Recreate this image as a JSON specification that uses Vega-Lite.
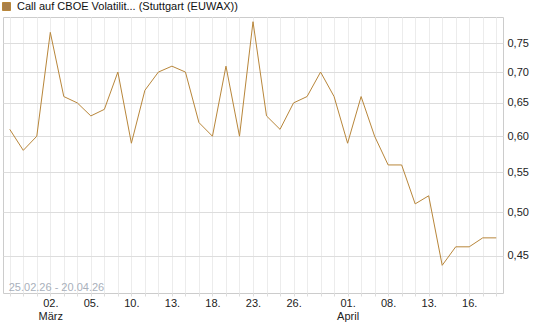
{
  "$schema": "https://vega.github.io/schema/vega-lite/v6.json",
  "width": 500,
  "height": 276,
  "autosize": "none",
  "padding": {"left": 3, "top": 17, "right": 42, "bottom": 34},
  "background": "#ffffff",
  "config": {
    "view": {"stroke": "#cccccc", "strokeWidth": 1},
    "font": "Liberation Sans"
  },
  "data": {
    "values": [
      {"d": "2026-02-25", "v": 0.61},
      {"d": "2026-02-26", "v": 0.58},
      {"d": "2026-02-27", "v": 0.60},
      {"d": "2026-03-02", "v": 0.77},
      {"d": "2026-03-03", "v": 0.66},
      {"d": "2026-03-04", "v": 0.65},
      {"d": "2026-03-05", "v": 0.63},
      {"d": "2026-03-06", "v": 0.64},
      {"d": "2026-03-09", "v": 0.70},
      {"d": "2026-03-10", "v": 0.59},
      {"d": "2026-03-11", "v": 0.67},
      {"d": "2026-03-12", "v": 0.70},
      {"d": "2026-03-13", "v": 0.71},
      {"d": "2026-03-16", "v": 0.70},
      {"d": "2026-03-17", "v": 0.62},
      {"d": "2026-03-18", "v": 0.60},
      {"d": "2026-03-19", "v": 0.71},
      {"d": "2026-03-20", "v": 0.60},
      {"d": "2026-03-23", "v": 0.79},
      {"d": "2026-03-24", "v": 0.63},
      {"d": "2026-03-25", "v": 0.61},
      {"d": "2026-03-26", "v": 0.65},
      {"d": "2026-03-27", "v": 0.66},
      {"d": "2026-03-30", "v": 0.70},
      {"d": "2026-03-31", "v": 0.66},
      {"d": "2026-04-01", "v": 0.59},
      {"d": "2026-04-02", "v": 0.66},
      {"d": "2026-04-07", "v": 0.60},
      {"d": "2026-04-08", "v": 0.56},
      {"d": "2026-04-09", "v": 0.56},
      {"d": "2026-04-10", "v": 0.51},
      {"d": "2026-04-13", "v": 0.52},
      {"d": "2026-04-14", "v": 0.44},
      {"d": "2026-04-15", "v": 0.46},
      {"d": "2026-04-16", "v": 0.46},
      {"d": "2026-04-17", "v": 0.47},
      {"d": "2026-04-20", "v": 0.47}
    ]
  },
  "encoding": {
    "x": {
      "field": "d",
      "type": "ordinal",
      "scale": {"type": "point", "padding": 0.5},
      "axis": {
        "title": null,
        "grid": true,
        "gridColor": "#ececec",
        "domain": false,
        "ticks": true,
        "tickSize": 3,
        "tickColor": "#dddddd",
        "labelAngle": 0,
        "labelFontSize": 11,
        "labelColor": "#222222",
        "labelPadding": 1,
        "labelLineHeight": 13,
        "labelOverlap": false,
        "labelExpr": "datum.value == '2026-03-02' ? ['02.', 'März'] : datum.value == '2026-04-01' ? ['01.', 'April'] : indexof(['2026-03-05','2026-03-10','2026-03-13','2026-03-18','2026-03-23','2026-03-26','2026-04-08','2026-04-13','2026-04-16'], datum.value) >= 0 ? substring(datum.value, 8, 10) + '.' : ''"
      }
    },
    "y": {
      "type": "quantitative",
      "scale": {"type": "log", "domain": [0.4117, 0.799], "nice": false, "zero": false},
      "axis": {
        "title": null,
        "orient": "right",
        "values": [0.45, 0.5, 0.55, 0.6, 0.65, 0.7, 0.75],
        "grid": true,
        "gridColor": "#dddddd",
        "domain": false,
        "ticks": false,
        "labelPadding": 4,
        "labelFontSize": 11,
        "labelColor": "#222222",
        "labelExpr": "replace(format(datum.value, '.2f'), '.', ',')"
      }
    }
  },
  "layer": [
    {
      "mark": {"type": "line", "strokeWidth": 1, "interpolate": "linear"},
      "encoding": {
        "y": {"field": "v"},
        "color": {
          "datum": "Call auf CBOE Volatilit... (Stuttgart (EUWAX))",
          "scale": {"range": ["#b8863a"]},
          "legend": {
            "title": null,
            "orient": "none",
            "legendX": -2,
            "legendY": -16,
            "padding": 0,
            "symbolType": "square",
            "symbolSize": 64,
            "symbolFillColor": "#a9804a",
            "symbolStrokeColor": "#444444",
            "symbolStrokeWidth": 1,
            "labelFontSize": 11,
            "labelColor": "#111111",
            "labelOffset": 5,
            "labelLimit": 400
          }
        }
      }
    },
    {
      "data": {"values": [{"d": "2026-02-25", "label": "25.02.26 - 20.04.26"}]},
      "mark": {"type": "text", "align": "left", "baseline": "alphabetic", "dx": -1, "dy": -2.5, "fontSize": 11, "fill": "#a9b0bb"},
      "encoding": {
        "x": {"field": "d"},
        "y": {"datum": 0.4117},
        "text": {"field": "label"}
      }
    }
  ]
}
